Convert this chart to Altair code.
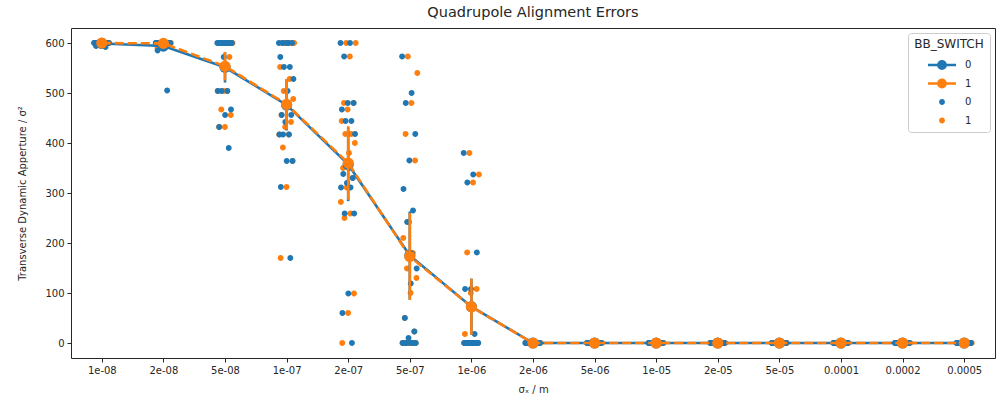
import json
import altair as alt
import pandas as pd

categories = ["1e-08", "2e-08", "5e-08", "1e-07", "2e-07", "5e-07", "1e-06",
              "2e-06", "5e-06", "1e-05", "2e-05", "5e-05", "0.0001", "0.0002", "0.0005"]

# BB_SWITCH = 0 (blue)
sw0_1e08 = [600, 600, 600, 600, 600, 600, 600, 600, 600, 600, 600, 600, 600, 600, 600, 600, 600, 596, 594, 592]
sw0_2e08 = [600, 600, 600, 600, 600, 600, 600, 600, 600, 600, 600, 600, 600, 600, 600, 600, 598, 590, 585, 505]
sw0_5e08 = [600, 600, 600, 600, 600, 600, 600, 600, 600, 600, 600, 600, 572, 504, 504, 504, 467, 456, 432, 390]
sw0_1e07 = [600, 600, 600, 600, 600, 572, 552, 552, 528, 504, 456, 456, 442, 417, 417, 417, 364, 364, 312, 170]
sw0_2e07 = [600, 600, 573, 480, 480, 467, 444, 444, 418, 350, 338, 330, 320, 311, 311, 259, 259, 99, 60, 0]
sw0_5e07 = [573, 500, 480, 418, 365, 308, 265, 242, 149, 119, 50, 23, 10, 0, 0, 0, 0, 0, 0, 0]
sw0_1e06 = [380, 337, 321, 181, 108, 108, 18, 0, 0, 0, 0, 0, 0, 0, 0, 0, 0, 0, 0, 0]

# BB_SWITCH = 1 (orange)
sw1_1e08 = [600, 600, 600, 600, 600, 600, 600, 600, 600, 600, 600, 600, 600, 600, 600, 600, 600, 600, 600, 597]
sw1_2e08 = [600, 600, 600, 600, 600, 600, 600, 600, 600, 600, 600, 600, 600, 600, 600, 600, 600, 600, 595, 590]
sw1_5e08 = [600, 600, 600, 600, 600, 600, 600, 600, 600, 600, 600, 600, 572, 504, 504, 504, 467, 456, 432, 432]
sw1_1e07 = [600, 600, 600, 600, 600, 600, 552, 528, 504, 488, 475, 456, 442, 432, 417, 417, 391, 364, 312, 170]
sw1_2e07 = [600, 600, 573, 480, 480, 467, 444, 418, 418, 400, 380, 350, 330, 311, 282, 259, 250, 99, 60, 0]
sw1_5e07 = [573, 540, 480, 418, 365, 242, 210, 180, 149, 130, 100, 50, 23, 0, 0, 0, 0, 0, 0, 0]
sw1_1e06 = [380, 337, 321, 181, 108, 100, 18, 0, 0, 0, 0, 0, 0, 0, 0, 0, 0, 0, 0, 0]

# large-error runs: every seed lost
zero_run = [0, 0, 0, 0, 0, 0, 0, 0, 0, 0, 0, 0, 0, 0, 0, 0, 0, 0, 0, 0]

series0 = [sw0_1e08, sw0_2e08, sw0_5e08, sw0_1e07, sw0_2e07, sw0_5e07, sw0_1e06] + [zero_run] * 8
series1 = [sw1_1e08, sw1_2e08, sw1_5e08, sw1_1e07, sw1_2e07, sw1_5e07, sw1_1e06] + [zero_run] * 8

keys = ["0 line", "1 line", "0 dot", "1 dot"]
blue, orange = "#1f77b4", "#ff7f0e"

rows = []
for hue, series in ((1, series1), (0, series0)):
    for idx, vals in enumerate(series):
        for j, v in enumerate(vals):
            off = (((j * 0.618034) + 0.37 * hue) % 1.0 - 0.5) * 0.25
            rows.append({"cat": categories[idx], "idx": idx, "hue": hue, "val": v,
                         "xj": idx + off, "key": f"{hue} dot"})
df = pd.DataFrame(rows)

# legend glyphs (unit square coordinates, filled)
line_path = ("M-2,-0.18L2,-0.18L2,0.18L-2,0.18Z"
             "M0.7,0A0.7,0.7,0,1,1,-0.7,0A0.7,0.7,0,1,1,0.7,0Z")
dot_path = "M0.42,0A0.42,0.42,0,1,1,-0.42,0A0.42,0.42,0,1,1,0.42,0Z"

legend = alt.Legend(
    title="BB_SWITCH", orient="top-right", offset=5,
    labelExpr="substring(datum.label, 0, 1)",
    symbolSize=196, symbolStrokeWidth=0, symbolOpacity=1,
    symbolOffset=8, labelOffset=16,
    strokeColor="#cccccc", cornerRadius=3, fillColor="white", padding=6,
    rowPadding=6.5, titlePadding=7, titleAnchor="middle",
    titleFontWeight="normal", titleFontSize=12, labelFontSize=10,
    titleFont="DejaVu Sans", labelFont="DejaVu Sans",
    titleColor="#262626", labelColor="#262626",
)
cscale = alt.Scale(domain=keys, range=[blue, orange, blue, orange])
sscale = alt.Scale(domain=keys, range=[line_path, line_path, dot_path, dot_path])

xax = alt.Axis(values=list(range(len(categories))),
               labelExpr=f"{json.dumps(categories)}[datum.value]",
               title="σₓ / m", titlePadding=9, orient="bottom")
xs = alt.Scale(domain=[-0.5, len(categories) - 0.5], nice=False, zero=False)
ys = alt.Scale(domain=[-30, 630], nice=False, zero=False)
yax = alt.Axis(values=[0, 100, 200, 300, 400, 500, 600],
               title="Transverse Dynamic Apperture / σ²", titlePadding=17, orient="left")

strip = alt.Chart(df).mark_point(filled=True, size=196, opacity=1, strokeWidth=0).encode(
    x=alt.X("xj:Q", scale=xs, axis=xax),
    y=alt.Y("val:Q", scale=ys, axis=yax),
    color=alt.Color("key:N", scale=cscale, legend=legend),
    shape=alt.Shape("key:N", scale=sscale, legend=legend),
)

layers = [strip]
for hue, col in ((0, blue), (1, orange)):
    base = alt.Chart(df).transform_filter(alt.datum.hue == hue).transform_aggregate(
        mean="mean(val)", se="stderr(val)", groupby=["idx"]
    ).transform_calculate(
        lo="datum.mean - 1.96 * datum.se",
        hi="datum.mean + 1.96 * datum.se",
        key=f"'{hue} line'",
    )
    x = alt.X("idx:Q", scale=xs, axis=xax)
    line_kw = {"strokeWidth": 2.6}
    if hue == 1:
        line_kw["strokeDash"] = [9, 4]
    ln = base.mark_line(**line_kw).encode(
        x=x, y=alt.Y("mean:Q", scale=ys, axis=yax),
        color=alt.Color("key:N", scale=cscale, legend=legend),
    )
    pts = base.mark_circle(size=125, opacity=1).encode(
        x=x, y=alt.Y("mean:Q", scale=ys, axis=yax),
        color=alt.Color("key:N", scale=cscale, legend=legend),
    )
    err = base.mark_rule(strokeWidth=2.6, color=col).encode(
        x=x, y=alt.Y("lo:Q", scale=ys, axis=yax), y2="hi:Q",
    )
    layers += [ln, pts, err]

chart = alt.layer(*layers).properties(
    width=924, height=330,
    title=alt.TitleParams("Quadrupole Alignment Errors", fontSize=14.5, fontWeight="normal",
                          font="DejaVu Sans", color="#262626", offset=8, anchor="middle"),
    padding={"left": 71, "top": 28, "right": 6, "bottom": 36},
    autosize=alt.AutoSizeParams(type="none"),
).configure_view(
    stroke="#262626", strokeWidth=1,
).configure_axis(
    labelFont="DejaVu Sans", titleFont="DejaVu Sans", labelFontSize=10, titleFontSize=10,
    labelColor="#262626", titleColor="#262626", titleFontWeight="normal",
    tickColor="#262626", tickSize=4, tickWidth=1, labelPadding=3,
    domain=False, grid=False,
)

chart.save("out.html", embed_options={"renderer": "svg", "actions": False})
